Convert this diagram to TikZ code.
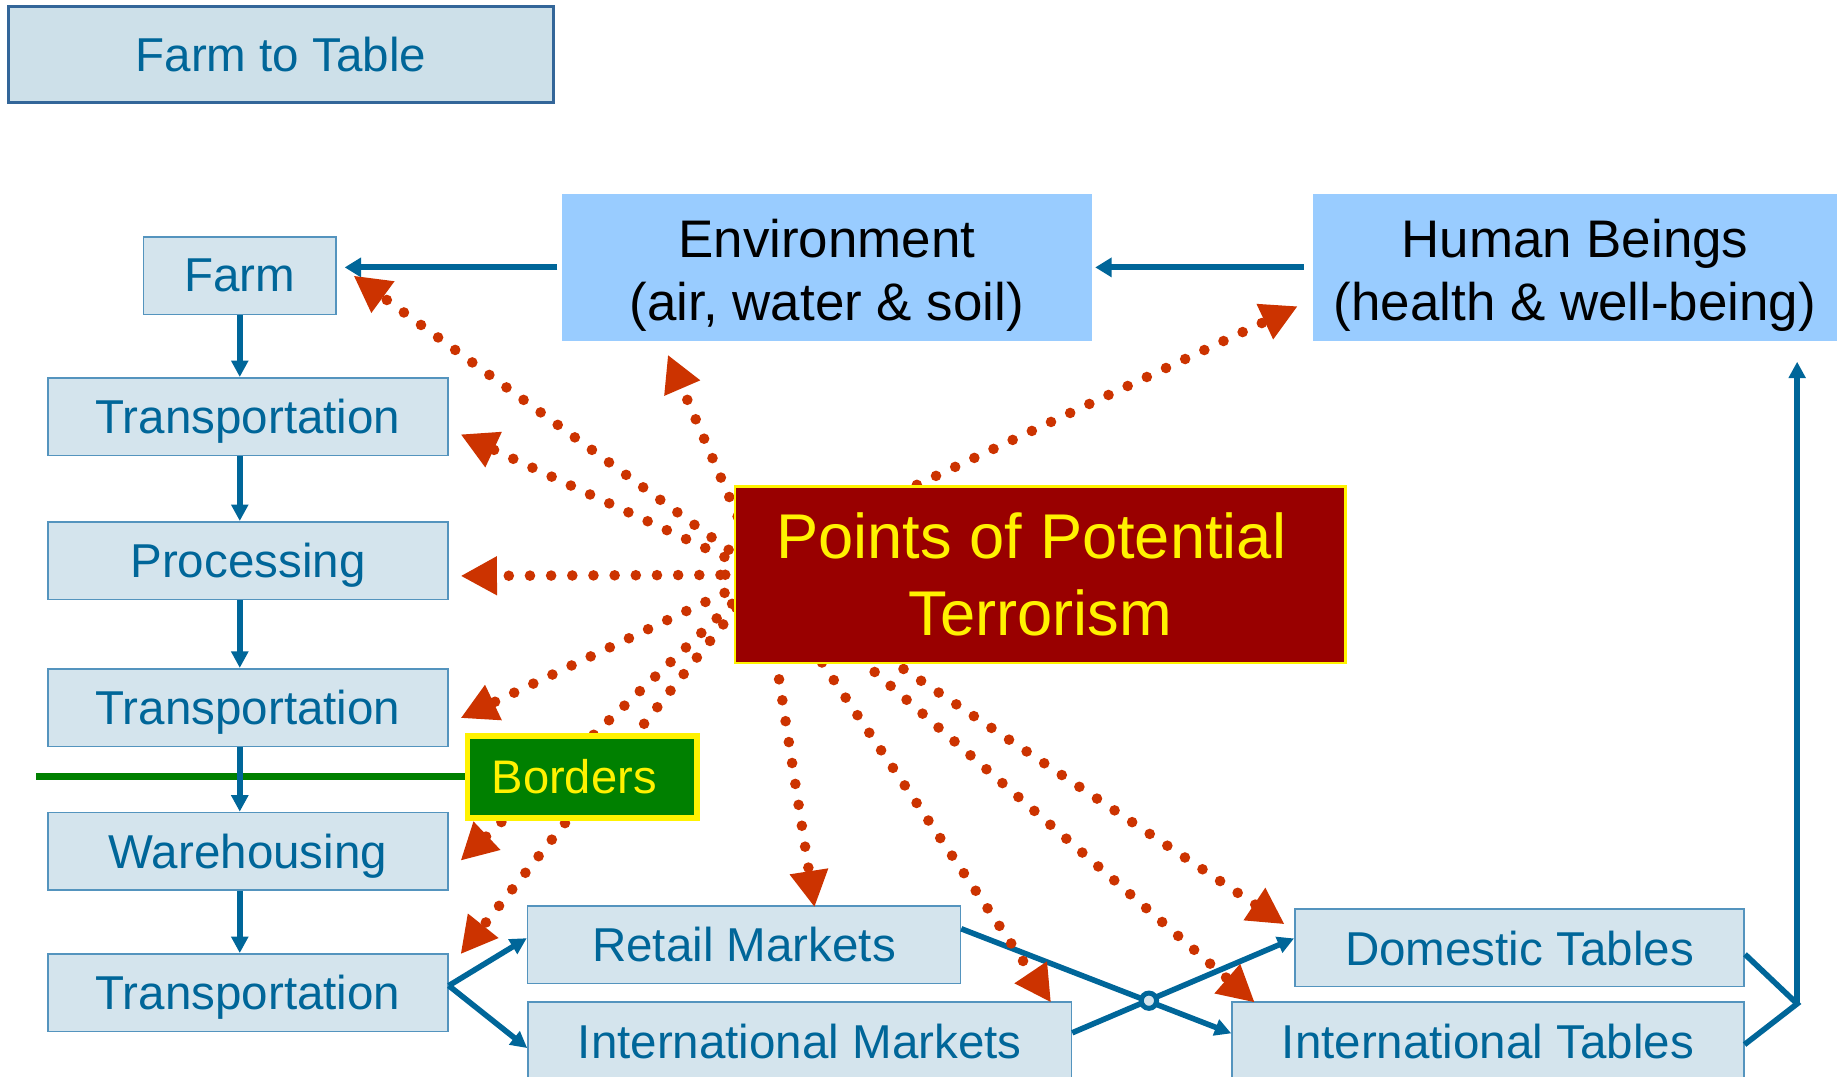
\documentclass[tikz,border=0pt]{standalone}
\usepackage{fontspec}
\setmainfont{Liberation Sans}
\usepackage{tikz}
\usetikzlibrary{calc,arrows.meta}

\definecolor{boxfill}{RGB}{212,228,237}
\definecolor{titlefill}{RGB}{205,224,233}
\definecolor{boxline}{RGB}{84,148,190}
\definecolor{titleline}{RGB}{51,102,153}
\definecolor{ink}{RGB}{0,102,153}
\definecolor{sky}{RGB}{153,204,255}
\definecolor{blood}{RGB}{153,0,0}
\definecolor{threat}{RGB}{204,51,0}
\definecolor{grass}{RGB}{0,128,0}

\tikzset{
    stage/.style={draw=boxline, line width=0.4pt, fill=boxfill, text=ink, inner sep=0pt,
        minimum height=0.66cm, text depth=0pt, font=\fontsize{11.5}{13.8}\selectfont},
    sphere/.style={fill=sky, inner sep=0pt, minimum height=1.25cm, align=center,
        text height=28.2pt, font=\fontsize{12.8}{15.2}\selectfont},
    flow/.style={draw=ink, line width=1.35pt, -{Triangle[length=0.14cm, width=0.14cm]}},
    feed/.style={draw=ink, line width=1.35pt},
    risk/.style={draw=threat, line width=0.09cm, line cap=round, dash pattern=on 0pt off 0.18cm,
        -{Triangle[length=0.31cm, width=0.31cm]}}
}

\begin{document}
\begin{tikzpicture}[x=0.01cm, y=-0.01cm]
        \useasboundingbox (0,0) rectangle (1568,916);
        \clip (0,0) rectangle (1568,916);
        \node [stage, draw=titleline, line width=0.7pt, fill=titlefill, minimum width=4.64cm, minimum height=0.82cm] (title) at (239,46.5) {Farm to Table};
        \node [stage, minimum width=1.64cm] (farm) at (204,234.5) {Farm};
        \foreach \n/\y/\t in {trans1/354.5/Transportation, proc/477/Processing, trans2/602/Transportation, ware/724.3/Warehousing, trans3/844.6/Transportation} {
            \node [stage, minimum width=3.40cm] (\n) at (211,\y) {\t};
        }
        \node [stage, minimum width=3.68cm] (retail) at (633,803.7) {Retail Markets};
        \node [stage, minimum width=4.62cm] (intlm) at (680.4,885.7) {International Markets};
        \node [stage, minimum width=3.82cm] (domt) at (1292.8,806.4) {Domestic Tables};
        \node [stage, minimum width=4.35cm] (intlt) at (1265.9,885.7) {International Tables};
        \node [sphere, minimum width=4.51cm] (env) at (703.5,227.5) {Environment\\(air, water \& soil)};
        \node [sphere, minimum width=4.46cm] (human) at (1340,227.5) {Human Beings\\(health \& well-being)};
        \draw [grass, line width=0.062cm] (31,660.5) -- (420,660.5);
        \draw [flow, line width=1.5pt, -{Triangle[length=0.14cm, width=0.16cm]}, shorten <=0.03cm, shorten >=0.065cm] (env.west) -- (env.west -| farm.east);
        \draw [flow, line width=1.5pt, -{Triangle[length=0.14cm, width=0.16cm]}, shorten <=0.07cm, shorten >=0.02cm] (human.west) -- (env.east);
        \foreach \a/\b in {farm/trans1, trans1/proc, proc/trans2, trans2/ware, ware/trans3} {
            \draw [flow] (\a.south -| farm) -- (\b.north -| farm);
        }
        \coordinate (fork) at ([yshift=0.06cm]trans3.east);
        \draw [flow] (fork) -- ([yshift=0.055cm]retail.west);
        \draw [flow] (fork) -- ([yshift=-0.06cm]intlm.west);
        \draw [flow] ([yshift=0.135cm]retail.east) -- ([yshift=0.065cm]intlt.west);
        \draw [flow] ([yshift=0.07cm]intlm.east) -- ([yshift=0.08cm]domt.west);
        \node [circle, draw=ink, line width=1.2pt, fill=boxfill, minimum size=0.13cm, inner sep=0pt] (hub) at (977.5,851.4) {};
        \coordinate (join) at (1529,854);
        \draw [feed] ([yshift=-0.055cm]domt.east) -- (join) -- ([yshift=-0.03cm]intlt.east);
        \draw [flow, shorten >=0.17cm] (join) -- (join |- human.south);
        \coordinate (src) at (649,489);
        \draw [risk] (src) -- ($(farm.east)+(14,0)$);
        \draw [risk] (src) -- ($(trans1.east)+(10,15)$);
        \draw [risk] (src) -- ($(env.south west)+(91,11)$);
        \draw [risk] ($(src)+(-32,0)$) -- ($(human.west)+(-12,33)$);
        \draw [risk] (src) -- ($(proc.east)+(10,13)$);
        \draw [risk] (src) -- ($(trans2.east)+(10,9)$);
        \draw [risk] (src) -- ($(ware.east)+(10,8)$);
        \draw [risk] (src) -- ($(trans3.north east)+(10,1)$);
        \draw [risk] (src) -- ($(retail.north)+(60,2)$);
        \draw [risk] (src) -- ($(intlm.north east)+(-18,1)$);
        \draw [risk] (src) -- ($(intlt.north west)+(20,1)$);
        \draw [risk] (src) -- ($(domt.west)+(-8,-20)$);
        \node [fill=blood, draw=yellow, line width=0.6pt, text=yellow, align=center, inner sep=0pt, minimum width=5.19cm, minimum height=1.50cm, font=\fontsize{15.3}{18.6}\selectfont] (pot) at (884.9,488.9) {Points of Potential\kern4.25pt\\Terrorism};
        \node [fill=grass, draw=yellow, line width=1.36pt, text=yellow, inner sep=0pt, minimum width=1.95cm, minimum height=0.70cm, text width=1.54cm, align=left, text depth=0pt, font=\fontsize{11.4}{13.7}\selectfont] (border) at (495.3,661) {Borders};
    \end{tikzpicture}
\end{document}
